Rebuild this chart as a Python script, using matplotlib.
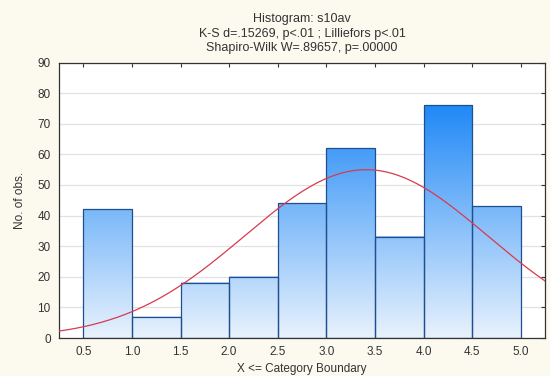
import numpy as np
import matplotlib
matplotlib.use("Agg")
import matplotlib.pyplot as plt
from matplotlib.colors import LinearSegmentedColormap

plt.rcParams["font.family"] = ["Liberation Sans", "DejaVu Sans"]

# histogram of s10av: upper category boundaries and counts
bin_lower = [0.5, 1.0, 1.5, 2.0, 2.5, 3.0, 3.5, 4.0, 4.5]
bin_upper = [1.0, 1.5, 2.0, 2.5, 3.0, 3.5, 4.0, 4.5, 5.0]
counts = [42, 7, 18, 20, 44, 62, 33, 76, 43]
x_ticks = [0.5, 1.0, 1.5, 2.0, 2.5, 3.0, 3.5, 4.0, 4.5, 5.0]

title_lines = ["Histogram: s10av",
               "K-S d=.15269, p<.01 ; Lilliefors p<.01",
               "Shapiro-Wilk W=.89657, p=.00000"]

BG = "#fcf9ef"
TXT = "#333333"

fig = plt.figure(figsize=(5.5, 3.76), dpi=100, facecolor=BG)
ax = fig.add_axes([0.1073, 0.101, 0.8836, 0.7327])
ax.set_facecolor("white")

# vertical gradient shared by all bars (light at 0, saturated at the tallest bar)
cmap = LinearSegmentedColormap.from_list("bars", ["#e8f2fd", "#2189f6"])
top = max(counts)
for lo, hi, c in zip(bin_lower, bin_upper, counts):
    grad = np.linspace(0, c, 200).reshape(-1, 1)
    ax.imshow(grad, cmap=cmap, vmin=0, vmax=top, origin="lower", aspect="auto",
              extent=(lo, hi, 0, c), zorder=2, interpolation="bilinear")
widths = [hi - lo for lo, hi in zip(bin_lower, bin_upper)]
ax.bar(bin_lower, counts, width=widths, align="edge", fill=False,
       edgecolor="#1f4f8f", linewidth=0.9, zorder=3)

# expected normal frequencies from the sample mean / sd
vals = np.repeat(bin_upper, counts)
mu, sd = vals.mean(), vals.std()
n = len(vals)
xs = np.linspace(0.25, 5.25, 300)
ys = n * 0.5 * np.exp(-0.5 * ((xs - mu) / sd) ** 2) / (sd * np.sqrt(2 * np.pi))
ax.plot(xs, ys, color="#d63b4e", lw=0.9, zorder=4)

ax.set_xlim(0.25, 5.25)
ax.set_ylim(0, 90)
ax.set_xticks(x_ticks)
ax.set_xticklabels([f"{t:.1f}" for t in x_ticks])
ax.set_yticks(range(0, 91, 10))
ax.yaxis.grid(True, color="#e2e2e2", lw=0.9, zorder=0)
ax.set_axisbelow(True)
ax.tick_params(axis="x", bottom=False, top=True, direction="in", length=3,
               labelsize=8.5, labelcolor=TXT, pad=6, color="#333333")
ax.tick_params(axis="y", left=False, right=True, direction="in", length=3,
               labelsize=8.5, labelcolor=TXT, pad=6, color="#333333")
for s in ax.spines.values():
    s.set_color("#333333")
    s.set_linewidth(0.9)

ax.set_xlabel("X <= Category Boundary", fontsize=8.5, color=TXT, labelpad=3)
ax.set_ylabel("No. of obs.", fontsize=8.5, color=TXT, labelpad=8)

for i, line in enumerate(title_lines):
    fig.text(302 / 550, 1 - (19 + 14.5 * i) / 376, line, ha="center", va="center",
             fontsize=9, color=TXT)

fig.savefig("out.png", dpi=100, facecolor=BG)
